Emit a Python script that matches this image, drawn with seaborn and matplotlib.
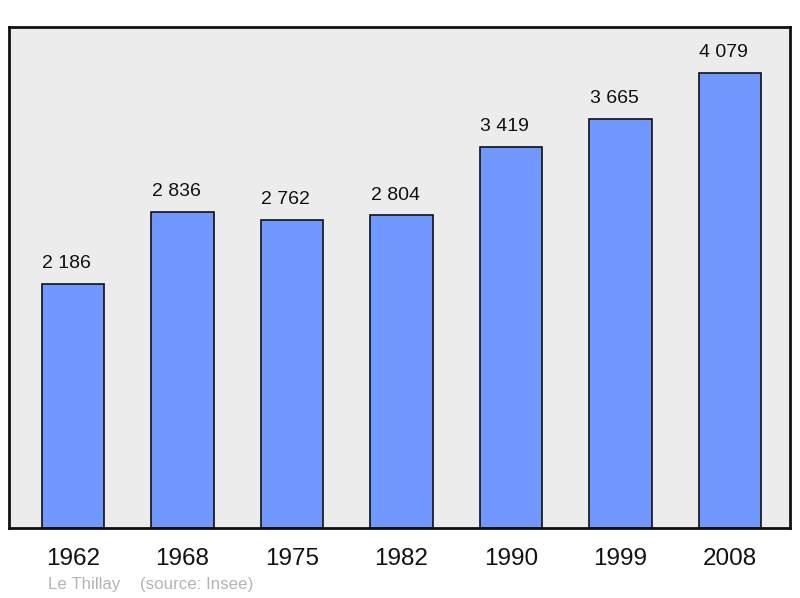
import matplotlib
matplotlib.use("Agg")
import matplotlib.pyplot as plt
import seaborn as sns
import pandas as pd

years = ["1962", "1968", "1975", "1982", "1990", "1999", "2008"]
population = [2186, 2836, 2762, 2804, 3419, 3665, 4079]
labels = ["2 186", "2 836", "2 762", "2 804", "3 419", "3 665", "4 079"]

df = pd.DataFrame({"Year": years, "Population": population})

sns.set_style("white")
plt.rcParams['font.family'] = ['Liberation Sans', 'DejaVu Sans']

fig = plt.figure(figsize=(8, 5.98), dpi=100)
ax = fig.add_axes([0.01125, 0.1171, 0.97625, 0.8378])
ax.set_facecolor("#ececec")

sns.barplot(data=df, x="Year", y="Population", color="#7098ff",
            width=0.57, edgecolor="#111111", linewidth=1.2,
            saturation=1, ax=ax)

# value labels above bars (slightly left of centre, as in the original)
for i, (v, lab) in enumerate(zip(population, labels)):
    ax.annotate(lab, (i, v), xytext=(-4.5, 8.5), textcoords="offset points",
                ha="center", va="bottom", fontsize=14, color="#111111")

ax.set_xlim(-0.585, 6.55)
ax.set_ylim(0, 4493)
ax.set_yticks([])
ax.set_xlabel("")
ax.set_ylabel("")
ax.tick_params(axis="x", length=0, labelsize=17.5, pad=14.5, colors="#111111")
for s in ax.spines.values():
    s.set_linewidth(2)
    s.set_color("#111111")

fig.text(48 / 800, 1 - 584 / 598, "Le Thillay", fontsize=12.2, color="#b4b4b4",
         ha="left", va="center")
fig.text(140 / 800, 1 - 584 / 598, "(source: Insee)", fontsize=12.2, color="#b4b4b4",
         ha="left", va="center")

fig.savefig("out.png", dpi=100)
